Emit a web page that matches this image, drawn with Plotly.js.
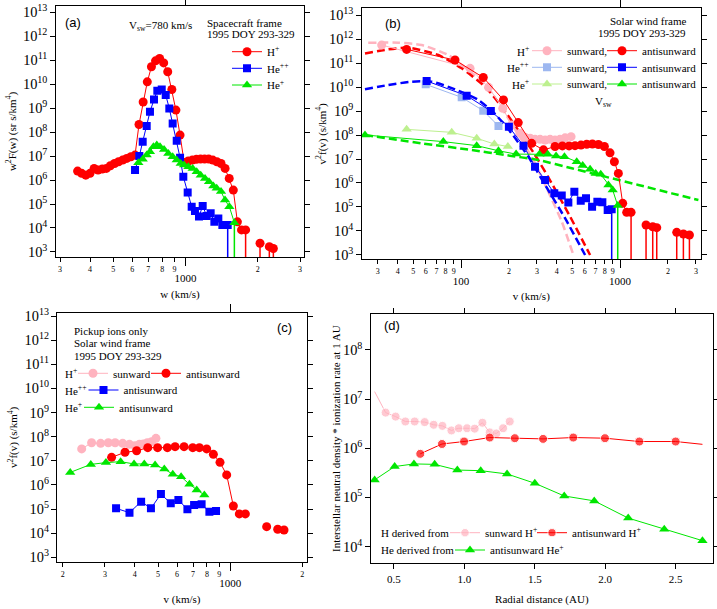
<!DOCTYPE html>
<html>
<head>
<meta charset="utf-8">
<script src="https://cdn.plot.ly/plotly-3.0.1.min.js"></script>
<style>
  html, body { margin: 0; padding: 0; background: #fff; }
  #chart { width: 717px; height: 609px; }
</style>
</head>
<body>
<div id="chart"></div>
<script>
// ---- panel (a): spacecraft frame, w in km/s ----
const wH = [355, 369, 384, 400, 416, 432, 450, 468, 486, 506, 526, 547, 569, 592, 616, 640, 666, 693, 721, 750, 780, 811, 843, 877, 912, 949, 987, 1027, 1068, 1110, 1155, 1201, 1249, 1299, 1351, 1406, 1462, 1521, 1582, 1645, 1711, 1780];
const fH = [2.37e6, 1.9e6, 1.6e6, 1.9e6, 3.06e6, 2.6e6, 2.9e6, 3.06e6, 3.95e6, 4.9e6, 5.8e6, 6.8e6, 8.0e6, 9.4e6, 1.1e7,
  2.08e8, 1.8e9, 1.25e10, 5.3e10, 9.4e10, 1.17e11, 7.7e10, 3.3e10, 6.0e9, 8.3e8, 7.5e7,
  5.4e6, 6.2e6, 6.8e6, 7.3e6, 7.5e6, 7.5e6, 7.5e6, 6.8e6, 5.8e6, 4.9e6, 3.06e6, 1.17e6, 3.8e5, 1.8e4, 8.3e3, 8.3e3];
const wHTail = [2044, 2235, 2323];
const fHTail = [2.3e3, 1.67e3, 1.4e3];
const wHe2 = [616, 642, 663, 689, 711, 739, 763, 796, 827, 856, 884, 919, 949, 979, 1021, 1061, 1095, 1138, 1179, 1225, 1273, 1319, 1370, 1424, 1499];
const fHe2 = [2.6e6, 1.0e7, 4.0e7, 1.8e8, 7.0e8, 2.3e9, 5.3e9, 6.0e9, 3.5e9, 9.7e8, 2.3e8, 4.4e7, 8.5e6, 1.38e6, 3.0e5, 7.7e4, 5.1e4, 3.0e4, 8.3e4, 3.2e4, 4.1e4, 1.8e4, 2.5e4, 1.33e4, 1.33e4];
const wHe1 = [636, 663, 689, 711, 735, 759, 783, 814, 848, 884, 919, 955, 986, 1028, 1071, 1113, 1157, 1206, 1253, 1306, 1349, 1406, 1461, 1523, 1598];
const fHe1 = [5.3e6, 7.3e6, 1.1e7, 1.52e7, 2.45e7, 2.9e7, 2.45e7, 1.9e7, 1.29e7, 9.4e6, 6.8e6, 4.9e6, 4.2e6, 3.6e6, 3.06e6, 2.2e6, 1.6e6, 1.17e6, 8.5e5, 5.6e5, 4.5e5, 3.3e5, 1.47e5, 7.7e4, 1.67e4];
const vswA = 780;

// ---- panel (b): solar wind frame ----
const vHsun = [31.7, 114, 149, 183, 208, 235, 253, 272, 292, 314, 338, 363, 390, 419, 451, 492];
const fHsun = [5.6e11, 6.0e10, 9.7e9, 1.29e9, 2.6e8, 1.17e8, 8.0e7, 7.3e7, 6.6e7, 6.6e7, 6.2e7, 6.6e7, 6.2e7, 6.6e7, 7.6e7, 8.5e7];
const vHanti = [45.5, 91.7, 138, 185, 229, 278, 330, 390, 434, 478, 521, 568, 617, 670, 731, 797, 865, 921, 976, 1039, 1101, 1173];
const fHanti = [3.7e11, 1.33e11, 2.5e10, 2.9e9, 3.3e8, 4.5e7, 2.4e7, 3.3e7, 3.5e7, 3.5e7, 3.6e7, 3.8e7, 4.1e7, 4.2e7, 4.0e7, 3.3e7, 1.8e7, 7.7e6, 2.5e6, 1.42e5, 6.0e4, 6.0e4];
const vHantiTail = [1457, 1605, 1701, 2272, 2502, 2730];
const fHantiTail = [1.78e4, 1.5e4, 1.38e4, 8.8e3, 7.5e3, 6.8e3];
const vHe2sun = [60, 101, 138, 172];
const fHe2sun = [1.29e10, 3.7e9, 1.03e9, 2.37e8];
const vHe2anti = [60.8, 108.5, 154, 200, 247, 292, 338, 386, 430, 473, 516, 566, 611, 667, 720, 774, 836, 886];
const fHe2anti = [1.78e10, 4.35e9, 1.0e9, 2.2e8, 3.6e7, 4.8e6, 1.33e6, 3.7e5, 3.0e5, 1.52e5, 4.35e5, 1.84e5, 2.3e5, 1.03e5, 1.67e5, 1.56e5, 7.5e4, 8.0e4];
const vHe1sun = [45.5, 87.4, 125.5, 162, 197];
const fHe1sun = [1.72e8, 1.29e8, 7.3e7, 4.2e7, 3.3e7];
const vHe1anti = [24.9, 77.4, 125.5, 172, 222, 311, 351, 396, 447, 534, 582, 648, 703, 756, 845, 899, 967];
const fHe1anti = [1.0e8, 5.3e7, 3.6e7, 2.2e7, 1.6e7, 1.56e7, 1.56e7, 1.33e7, 1.25e7, 7.7e6, 5.3e6, 3.7e6, 2.5e6, 2.3e6, 8.3e5, 5.1e5, 1.14e5];
// model fits (dashed)
const vFitHsun = [26.1, 40.4, 56.6, 83.2, 111, 148.6, 189, 241, 292, 354, 430, 509];
const fFitHsun = [7.0e11, 7.0e11, 5.6e11, 2.15e11, 5.1e10, 8.8e9, 8.0e8, 6.2e7, 6.6e6, 4.35e5, 2.45e4, 1.0e3];
const vFitHanti = [24.9, 34.9, 46.7, 72, 101, 141.6, 180, 229, 292, 372, 485, 648];
const fFitHanti = [2.5e11, 3.7e11, 4.35e11, 2.15e11, 6.0e10, 1.03e10, 1.52e9, 1.6e8, 1.47e7, 9.7e5, 4.0e4, 1.0e3];
const vFitHe2 = [24.9, 34.9, 49, 65.4, 91.7, 128.5, 163.6, 208, 265, 338, 451, 603];
const fFitHe2 = [8.0e9, 1.21e10, 1.67e10, 1.67e10, 8.0e9, 2.9e9, 7.5e8, 1.17e8, 1.25e7, 8.3e5, 3.4e4, 1.0e3];
const vFitHe1 = [24.9, 56.6, 116.7, 189, 306, 497, 805, 1304, 2113, 3109];
const fFitHe1 = [1.0e8, 4.5e7, 2.37e7, 1.47e7, 9.1e6, 4.1e6, 1.84e6, 8.3e5, 3.7e5, 1.96e5];
const vswB = 780;
const vCutB = 908;

// ---- panel (c): pickup ions only ----
const vPuiHsun = [240, 264, 288, 310, 331, 356, 380, 401, 418, 434, 451, 470, 490];
const fPuiHsun = [3.1e7, 5.6e7, 5.3e7, 5.6e7, 5.6e7, 5.3e7, 4.8e7, 4.2e7, 4.8e7, 5.0e7, 5.6e7, 6.2e7, 8.5e7];
const vPuiHanti = [320, 364, 407, 453, 498, 547, 589, 642, 698, 744, 798, 851, 907, 967, 1031, 1092, 1157];
const fPuiHanti = [1.39e7, 2.25e7, 2.6e7, 3.5e7, 3.5e7, 3.5e7, 3.85e7, 3.85e7, 3.5e7, 3.5e7, 3.1e7, 1.85e7, 8.6e6, 2.6e6, 1.34e5, 6.3e4, 6.3e4];
const vPuiHantiTail = [1420, 1579, 1678];
const fPuiHantiTail = [1.87e4, 1.45e4, 1.36e4];
const vPuiHe2 = [334, 380, 425, 467, 514, 565, 608, 663, 707, 760, 819, 873];
const fPuiHe2 = [1.07e5, 7.1e4, 2.03e5, 1.07e5, 4.2e5, 1.73e5, 2.38e5, 9.8e4, 1.48e5, 1.57e5, 7.8e4, 8.3e4];
const vPuiHe1 = [215, 262, 303, 349, 397, 438, 486, 531, 576, 624, 676, 725, 780];
const fPuiHe1 = [3.3e6, 7.1e6, 8.4e6, 9.2e6, 7.4e6, 7.4e6, 6.7e6, 4.6e6, 2.75e6, 2.2e6, 1.06e6, 6.2e5, 3.8e5];

// ---- panel (d): neutral density * ionization rate vs radial distance ----
const rHsun = [0.363, 0.441, 0.512, 0.581, 0.647, 0.718, 0.782, 0.844, 0.908, 0.960, 1.019, 1.073, 1.128, 1.180, 1.227, 1.275, 1.322];
const nHsun = [1.42e7, 5.3e6, 4.4e6, 3.5e6, 3.5e6, 3.4e6, 3.0e6, 2.85e6, 2.3e6, 2.55e6, 2.55e6, 2.5e6, 3.3e6, 2.1e6, 2.0e6, 2.55e6, 3.5e6];
const rHanti = [0.687, 0.841, 0.998, 1.180, 1.358, 1.559, 1.773, 1.998, 2.242, 2.5, 2.69];
const nHanti = [7.7e5, 1.22e6, 1.37e6, 1.65e6, 1.6e6, 1.55e6, 1.65e6, 1.6e6, 1.37e6, 1.37e6, 1.2e6];
const rHe = [0.363, 0.505, 0.642, 0.789, 0.950, 1.116, 1.303, 1.5, 1.709, 1.922, 2.163, 2.419, 2.69];
const nHe = [2.27e5, 4.24e5, 4.8e5, 4.7e5, 3.6e5, 3.5e5, 3.0e5, 1.94e5, 1.07e5, 8.5e4, 3.8e4, 2.25e4, 1.32e4];

// ---- tick marks for the log velocity axes (small digits + decade labels) ----
const digitTicksA = [300, 400, 500, 600, 700, 800, 900, 2000, 3000];
const digitLabelsA = ['3', '4', '5', '6', '7', '8', '9', '2', '3'];
const decadeTicksA = [1000];
const digitTicksB = [30, 40, 50, 60, 70, 80, 90, 200, 300, 400, 500, 600, 700, 800, 900, 2000, 3000];
const digitLabelsB = ['3', '4', '5', '6', '7', '8', '9', '2', '3', '4', '5', '6', '7', '8', '9', '2', '3'];
const decadeTicksB = [100, 1000];
const digitTicksC = [200, 300, 400, 500, 600, 700, 800, 900, 2000];
const digitLabelsC = ['2', '3', '4', '5', '6', '7', '8', '9', '2'];
const decadeTicksC = [1000];

const SERIF = 'Liberation Serif, Times New Roman, serif';
const SANS = 'Liberation Sans, Arial, sans-serif';
const RED = '#ff0000', PINK = '#ffb3bf', BLUE = '#0000ff', LBLUE = '#9db7f0', GREEN = '#00e600', LGREEN = '#bdf08f';
const SYM = { c: 'circle', s: 'square', t: 'triangle-up' };

const W = 717, H = 609;
const px = (x) => x / W;
const py = (y) => 1 - y / H;

function series(x, y, color, sym, ax, name, legend, opts = {}) {
  return Object.assign({
    type: 'scatter', mode: 'lines+markers', x, y,
    xaxis: 'x' + ax, yaxis: 'y' + ax,
    name, legend, showlegend: !!legend,
    line: { color, width: 1 },
    marker: { color, symbol: SYM[sym], size: sym === 's' ? 8 : 9 },
    hoverinfo: 'skip'
  }, opts);
}
function dots(x, y, color, ax) {
  return { type: 'scatter', mode: 'markers', x, y, xaxis: 'x' + ax, yaxis: 'y' + ax, showlegend: false,
    marker: { color, symbol: 'circle', size: 9 }, hoverinfo: 'skip' };
}
function fit(x, y, color, ax) {
  return { type: 'scatter', mode: 'lines', x, y, xaxis: 'x' + ax, yaxis: 'y' + ax, showlegend: false,
    line: { color, width: 2.5, dash: '8px,4px', shape: 'spline', smoothing: 0.6 }, hoverinfo: 'skip' };
}
// drop lines from a point down through the bottom of the log axis
function stems(x, y, color, ax) {
  const xs = [], ys = [];
  x.forEach((v, i) => { xs.push(v, v, null); ys.push(y[i], 1e-3, null); });
  return { type: 'scatter', mode: 'lines', x: xs, y: ys, xaxis: 'x' + ax, yaxis: 'y' + ax, showlegend: false,
    line: { color, width: 1.5 }, hoverinfo: 'skip' };
}
// empty trace so the decade-label axis gets its own subplot
const holder = (xa, ya) => ({ type: 'scatter', mode: 'markers', x: [], y: [], xaxis: xa, yaxis: ya, showlegend: false, hoverinfo: 'skip' });

const hideAt = (arr, idx) => arr.map((_, i) => (i === idx ? 0 : 9));

const traces = [
  // (a)
  series(wH, fH, RED, 'c', '', 'H<sup>+</sup>', 'legend'),
  series(wHe2, fHe2, BLUE, 's', '', 'He<sup>++</sup>', 'legend2'),
  series(wHe1, fHe1, GREEN, 't', '', 'He<sup>+</sup>', 'legend3'),
  dots(wHTail, fHTail, RED, ''),
  stems([wH[wH.length - 1], ...wHTail], [fH[fH.length - 1], ...fHTail], RED, ''),
  stems([wHe2[wHe2.length - 1]], [fHe2[fHe2.length - 1]], BLUE, ''),
  stems([wHe1[wHe1.length - 1]], [fHe1[fHe1.length - 1]], GREEN, ''),
  // (b)
  fit(vFitHsun, fFitHsun, PINK, '2'),
  fit(vFitHe2, fFitHe2, BLUE, '2'),
  fit(vFitHanti, fFitHanti, RED, '2'),
  fit(vFitHe1, fFitHe1, GREEN, '2'),
  series(vHsun, fHsun, PINK, 'c', '2', 'sunward,', 'legend4'),
  series(vHanti, fHanti, RED, 'c', '2', 'antisunward', 'legend5'),
  series(vHe2sun, fHe2sun, LBLUE, 's', '2', 'sunward,', 'legend6'),
  series(vHe2anti, fHe2anti, BLUE, 's', '2', 'antisunward', 'legend7'),
  series(vHe1sun, fHe1sun, LGREEN, 't', '2', 'sunward,', 'legend8'),
  series(vHe1anti, fHe1anti, GREEN, 't', '2', 'antisunward', 'legend9'),
  dots(vHantiTail, fHantiTail, RED, '2'),
  stems([vHanti[vHanti.length - 1], ...vHantiTail], [fHanti[fHanti.length - 1], ...fHantiTail], RED, '2'),
  stems([vHe2anti[vHe2anti.length - 1]], [fHe2anti[fHe2anti.length - 1]], BLUE, '2'),
  stems([vHe1anti[vHe1anti.length - 1]], [fHe1anti[fHe1anti.length - 1]], GREEN, '2'),
  // (c)
  series(vPuiHsun, fPuiHsun, PINK, 'c', '3', 'sunward', 'legend10'),
  series(vPuiHanti, fPuiHanti, RED, 'c', '3', 'antisunward', 'legend11'),
  series(vPuiHe2, fPuiHe2, BLUE, 's', '3', 'antisunward', 'legend12'),
  series(vPuiHe1, fPuiHe1, GREEN, 't', '3', 'antisunward', 'legend13'),
  dots(vPuiHantiTail, fPuiHantiTail, RED, '3'),
  // (d)
  series(rHsun, nHsun, PINK, 'c', '4', 'sunward H<sup>+</sup>', 'legend14',
    { marker: { color: PINK, symbol: 'circle', size: hideAt(rHsun, 0) } }),
  series(rHanti, nHanti, RED, 'c', '4', 'antisunward H<sup>+</sup>', 'legend15',
    { marker: { color: RED, symbol: 'circle', size: hideAt(rHanti, rHanti.length - 1) } }),
  series(rHe, nHe, GREEN, 't', '4', 'antisunward He<sup>+</sup>', 'legend16'),
  holder('x5', 'y'), holder('x6', 'y2'), holder('x7', 'y3')
];

const TXT = (size) => ({ family: SERIF, size, color: '#000' });
const axisBase = {
  showline: true, linecolor: '#000', linewidth: 1, mirror: 'ticks',
  ticks: 'outside', ticklen: 5, tickwidth: 1, tickcolor: '#000',
  showgrid: false, zeroline: false, tickfont: TXT(11)
};
function logX(domain, range, anchor, tickvals, ticktext, title) {
  return Object.assign({}, axisBase, {
    type: 'log', domain, range, anchor, tickmode: 'array', tickvals, ticktext, mirror: true,
    ticklen: 4, tickfont: TXT(8),
    title: { text: title, font: TXT(11), standoff: 17 }
  });
}
// overlay axis that carries the decade labels (100, 1000) with longer ticks
function decadeX(over, range, anchor, tickvals) {
  return {
    type: 'log', overlaying: over, anchor, side: 'bottom', range,
    tickmode: 'array', tickvals, ticktext: tickvals.map(String),
    ticks: 'outside', ticklen: 8, tickwidth: 1, tickcolor: '#000', mirror: 'ticks',
    showline: false, showgrid: false, zeroline: false, tickfont: TXT(11), ticklabelstandoff: 3
  };
}
function logY(domain, range, anchor, title, standoff) {
  return Object.assign({}, axisBase, {
    type: 'log', domain, range, anchor, dtick: 1, exponentformat: 'power', showexponent: 'all',
    tickfont: TXT(11.5),
    title: { text: title, font: TXT(11), standoff }
  });
}

function legendAt(textX, rowY) {
  return { x: px(textX - 40), y: py(rowY), xanchor: 'left', yanchor: 'middle',
    bgcolor: 'rgba(0,0,0,0)', borderwidth: 0, tracegroupgap: 0, font: TXT(11) };
}
function label(text, x, y, xanchor = 'left', font = SERIF, size = 11) {
  return { text, x: px(x), y: py(y), xref: 'paper', yref: 'paper', xanchor, yanchor: 'middle',
    showarrow: false, font: { family: font, size, color: '#000' } };
}

const rangeA = [2.459, 3.495], rangeB = [1.3755, 3.509], rangeC = [2.2785, 3.3194];

const layout = {
  width: W, height: H,
  margin: { l: 0, r: 0, t: 0, b: 0 },
  paper_bgcolor: '#fff', plot_bgcolor: '#fff',
  font: TXT(11),
  showlegend: true,
  xaxis: logX([px(55.7), px(304.3)], rangeA, 'y', digitTicksA, digitLabelsA, 'w (km/s)'),
  yaxis: logY([py(257), py(6)], [2.79, 13.26], 'x', 'w<sup>2</sup>F(w) (sr s/km<sup>4</sup>)', 4),
  xaxis2: logX([px(361.7), px(701)], rangeB, 'y2', digitTicksB, digitLabelsB, 'v (km/s)'),
  yaxis2: logY([py(259.3), py(8.3)], [2.82, 13.28], 'x2', 'v<sup>2</sup>f(v) (s/km<sup>4</sup>)', 0),
  xaxis3: logX([px(57.3), px(306.7)], rangeC, 'y3', digitTicksC, digitLabelsC, 'v (km/s)'),
  yaxis3: logY([py(562), py(312.7)], [2.806, 13.137], 'x3', 'v<sup>2</sup>f(v) (s/km<sup>4</sup>)', 4),
  xaxis4: Object.assign({}, axisBase, {
    domain: [px(370.7), px(713)], range: [0.335, 2.765], anchor: 'y4',
    tick0: 0.5, dtick: 0.5, tickformat: '.1f',
    title: { text: 'Radial distance (AU)', font: TXT(11), standoff: 11 }
  }),
  yaxis4: logY([py(563.3), py(314)], [3.66, 8.73], 'x4', 'Interstellar neutral density * ionization rate at 1 AU', 0),
  xaxis5: decadeX('x', rangeA, 'y', decadeTicksA),
  xaxis6: decadeX('x2', rangeB, 'y2', decadeTicksB),
  xaxis7: decadeX('x3', rangeC, 'y3', decadeTicksC),
  legend: legendAt(267, 51.7),
  legend2: legendAt(267, 68.3),
  legend3: legendAt(267, 85),
  legend4: legendAt(567, 50.7),
  legend5: legendAt(642, 50.7),
  legend6: legendAt(567, 67.3),
  legend7: legendAt(642, 67.3),
  legend8: legendAt(567, 84),
  legend9: legendAt(642, 84),
  legend10: legendAt(113, 373.3),
  legend11: legendAt(186, 373.3),
  legend12: legendAt(123.5, 390),
  legend13: legendAt(119, 407.3),
  legend14: legendAt(485, 532.7),
  legend15: legendAt(572, 532.7),
  legend16: legendAt(490, 550),
  shapes: [
    { type: 'line', xref: 'x', yref: 'y domain', x0: Math.log10(vswA), x1: Math.log10(vswA), y0: 0, y1: 0.88,
      line: { color: '#000', width: 1, dash: 'dot' } },
    { type: 'line', xref: 'x2', yref: 'y2 domain', x0: Math.log10(vswB), x1: Math.log10(vswB), y0: 0, y1: 0.588,
      line: { color: '#000', width: 1, dash: 'dot' } },
    { type: 'line', xref: 'x2', yref: 'y2 domain', x0: Math.log10(vCutB), x1: Math.log10(vCutB), y0: 0.09, y1: 0.528,
      line: { color: '#000', width: 1.5 } }
  ],
  annotations: [
    label('(a)', 63, 23, 'left', SANS, 13),
    label('V<sub>sw</sub>=780 km/s', 160, 26, 'center'),
    label('Spacecraft frame', 205, 22.7),
    label('1995 DOY 293-329', 205, 34),
    label('(b)', 383, 24, 'left', SANS, 13),
    label('Solar wind frame', 688, 20.7, 'right'),
    label('1995 DOY 293-329', 688, 32.7, 'right'),
    label('H<sup>+</sup>', 531, 50.7, 'right'),
    label('He<sup>++</sup>', 531, 67.3, 'right'),
    label('He<sup>+</sup>', 531, 84, 'right'),
    label('V<sub>sw</sub>', 603, 101.7, 'center'),
    label('(c)', 294, 327, 'right', SANS, 13),
    label('Pickup ions only', 72, 331),
    label('Solar wind frame', 72, 343.3),
    label('1995 DOY 293-329', 72, 355.7),
    label('H<sup>+</sup>', 63, 373.3),
    label('He<sup>++</sup>', 63, 390),
    label('He<sup>+</sup>', 63, 407.3),
    label('(d)', 382, 325, 'left', SANS, 13),
    label('H derived from', 379, 532.7),
    label('He derived from', 379, 550)
  ]
};

Plotly.newPlot('chart', traces, layout, { displayModeBar: false, responsive: false });
</script>
</body>
</html>
